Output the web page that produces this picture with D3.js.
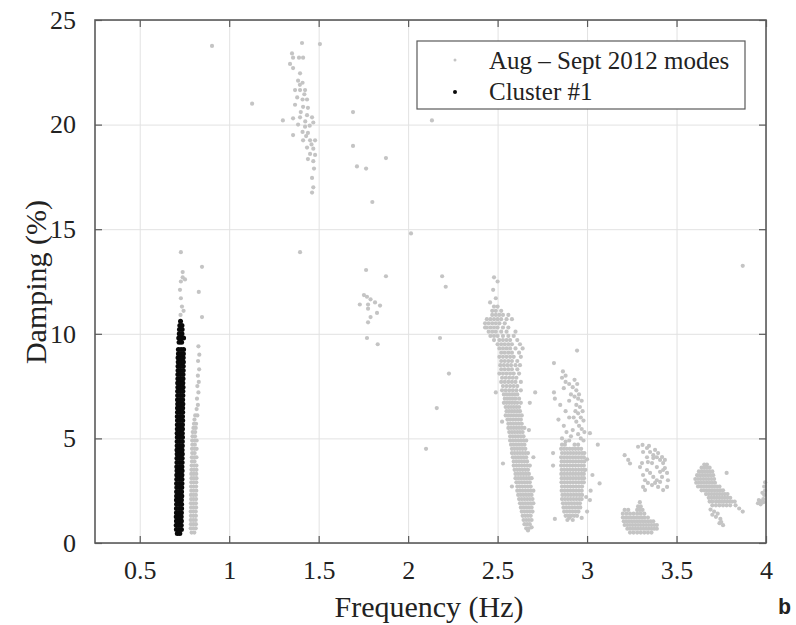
<!DOCTYPE html>
<html><head><meta charset="utf-8">
<script src="https://cdn.jsdelivr.net/npm/d3@7"></script>
<style>body{margin:0;background:#fff}</style>
</head><body>
<svg id="c" width="796" height="625"></svg>
<script>
// ---------------- DATA ----------------
const xTicks = [0.5, 1, 1.5, 2, 2.5, 3, 3.5, 4];
const yTicks = [0, 5, 10, 15, 20, 25];
const legendLabels = ["Aug \u2013 Sept 2012 modes", "Cluster #1"];
const xTitle = "Frequency (Hz)";
const yTitle = "Damping (%)";

// Cluster #1 (black) rows: "damping: freq freq ..."
const cluster1Rows = `
0.45: 0.71 0.724
0.65: 0.705 0.719 0.733
0.85: 0.704 0.718 0.732
1.05: 0.705 0.719 0.733
1.25: 0.704 0.718 0.732
1.45: 0.705 0.719 0.733
1.65: 0.705 0.72 0.734
1.85: 0.706 0.72 0.734
2.05: 0.705 0.719 0.733
2.25: 0.706 0.721 0.735
2.45: 0.706 0.72 0.734
2.65: 0.707 0.721 0.735
2.85: 0.706 0.721 0.736
3.05: 0.707 0.722 0.736
3.25: 0.707 0.721 0.736
3.45: 0.708 0.722 0.737
3.65: 0.707 0.722 0.736
3.85: 0.708 0.723 0.737
4.05: 0.708 0.722 0.737
4.25: 0.709 0.723 0.738
4.45: 0.708 0.723 0.737
4.65: 0.709 0.724 0.738
4.85: 0.709 0.723 0.738
5.05: 0.71 0.724 0.739
5.25: 0.709 0.724 0.738
5.45: 0.71 0.725 0.739
5.65: 0.71 0.724 0.739
5.85: 0.711 0.725 0.74
6.05: 0.71 0.725 0.739
6.25: 0.711 0.726 0.74
6.45: 0.711 0.725 0.74
6.65: 0.712 0.726 0.741
6.85: 0.711 0.726 0.74
7.05: 0.712 0.727 0.741
7.25: 0.712 0.726 0.741
7.45: 0.713 0.727 0.742
7.65: 0.712 0.727 0.741
7.85: 0.713 0.728 0.742
8.05: 0.713 0.727 0.742
8.25: 0.714 0.728 0.743
8.45: 0.714 0.729 0.743
8.65: 0.715 0.729 0.744
8.85: 0.714 0.729 0.743
9.05: 0.716 0.73 0.744
9.25: 0.716 0.731 0.745
9.6: 0.72 0.734
9.8: 0.718 0.732 0.745
10.0: 0.721 0.736
10.2: 0.722 0.737
10.4: 0.724 0.736
10.6: 0.728`;

// Gray modes near 0.8 Hz
const mode08Rows = `
0.5: 0.79 0.805
0.7: 0.785 0.799 0.813
0.9: 0.786 0.8 0.814
1.1: 0.785 0.799 0.813
1.3: 0.786 0.8 0.814
1.5: 0.785 0.799 0.813
1.7: 0.787 0.801 0.815
1.9: 0.786 0.8 0.814
2.1: 0.787 0.801 0.815
2.3: 0.786 0.8 0.814
2.5: 0.788 0.802 0.816
2.7: 0.787 0.801 0.815
2.9: 0.788 0.802 0.816
3.1: 0.789 0.803 0.817
3.3: 0.788 0.802 0.816
3.5: 0.789 0.803 0.817
3.7: 0.79 0.804 0.817
3.9: 0.792 0.806
4.1: 0.791 0.805 0.817
4.3: 0.793 0.807
4.5: 0.792 0.806 0.818
4.7: 0.794 0.808
4.9: 0.793 0.807 0.818
5.1: 0.795 0.809
5.3: 0.796 0.81
5.5: 0.8 0.813
5.7: 0.803 0.815
5.9: 0.806
6.1: 0.81 0.822
6.4: 0.818
6.6: 0.825
6.9: 0.82
7.2: 0.828
7.5: 0.822
7.7: 0.83
8.0: 0.825
8.3: 0.832
8.7: 0.826
9.0: 0.833
9.4: 0.828`;

// Gray modes 2.4 - 2.7 Hz
const mode26Rows = `
12.7: 2.48
12.5: 2.50
12.1: 2.475
11.7: 2.49
11.5: 2.458
11.3: 2.50 2.48
11.1: 2.47 2.49 2.52
10.9: 2.47 2.49 2.51 2.53 2.56
10.7: 2.44 2.46 2.48 2.50 2.52 2.55 2.58
10.5: 2.43 2.45 2.47 2.49 2.51 2.54
10.3: 2.44 2.46 2.48 2.50 2.53 2.56
10.1: 2.45 2.47 2.49 2.52 2.55 2.60
9.9: 2.46 2.48 2.50 2.53 2.56 2.59
9.7: 2.48 2.51 2.53 2.55 2.57 2.61
9.5: 2.50 2.52 2.54 2.56 2.58 2.625
9.3: 2.51 2.53 2.55 2.57 2.60 2.64
9.1: 2.52 2.54 2.56 2.58 2.62
8.9: 2.51 2.53 2.55 2.57 2.59 2.63
8.7: 2.52 2.54 2.56 2.58 2.61
8.5: 2.515 2.535 2.555 2.575 2.60 2.625
8.3: 2.52 2.54 2.56 2.58 2.61
8.1: 2.51 2.53 2.55 2.57 2.59 2.62
7.9: 2.525 2.545 2.565 2.585 2.605
7.7: 2.52 2.54 2.56 2.58 2.60 2.63
7.5: 2.53 2.55 2.57 2.59 2.61
7.3: 2.525 2.545 2.565 2.585 2.605 2.63
7.1: 2.535 2.55 2.565 2.58 2.595 2.61
6.9: 2.54 2.555 2.57 2.585 2.60 2.62
6.7: 2.535 2.55 2.565 2.58 2.595 2.61 2.63
6.5: 2.545 2.56 2.575 2.59 2.605 2.62
6.3: 2.55 2.565 2.58 2.595 2.61 2.625
6.1: 2.545 2.56 2.575 2.59 2.605 2.62 2.635
5.9: 2.555 2.57 2.585 2.60 2.615 2.63
5.7: 2.56 2.575 2.59 2.605 2.62 2.635
5.5: 2.56 2.575 2.59 2.605 2.62 2.635 2.65
5.3: 2.565 2.58 2.595 2.61 2.625 2.64
5.1: 2.57 2.585 2.60 2.615 2.63 2.645
4.9: 2.57 2.585 2.60 2.615 2.63 2.645 2.66
4.7: 2.575 2.59 2.605 2.62 2.635 2.65
4.5: 2.58 2.595 2.61 2.625 2.64 2.655
4.3: 2.58 2.595 2.61 2.625 2.64 2.655 2.67
4.1: 2.585 2.60 2.615 2.63 2.645 2.66
3.9: 2.59 2.605 2.62 2.635 2.65 2.665
3.7: 2.59 2.605 2.62 2.635 2.65 2.665 2.68
3.5: 2.595 2.61 2.625 2.64 2.655 2.67
3.3: 2.60 2.615 2.63 2.645 2.66 2.675
3.1: 2.60 2.615 2.63 2.645 2.66 2.675 2.69
2.9: 2.605 2.62 2.635 2.65 2.665 2.68
2.7: 2.61 2.625 2.64 2.655 2.67 2.685
2.5: 2.61 2.625 2.64 2.655 2.67 2.685 2.70
2.3: 2.615 2.63 2.645 2.66 2.675 2.69
2.1: 2.62 2.635 2.65 2.665 2.68 2.695
1.9: 2.625 2.64 2.655 2.67 2.685 2.70
1.7: 2.63 2.645 2.66 2.675 2.69
1.5: 2.635 2.65 2.665 2.68 2.695
1.3: 2.64 2.655 2.67 2.685
1.1: 2.645 2.66 2.675 2.69
0.9: 2.65 2.665 2.68
0.7: 2.66 2.675`;

// Gray modes 2.8 - 3.0 Hz
const mode29Rows = `
4.7: 2.86 2.876 2.93 2.95
4.5: 2.855 2.871 2.887 2.903 2.919 2.935 2.951 2.967
4.3: 2.86 2.876 2.892 2.908 2.924 2.94 2.956 2.972 2.985
4.1: 2.855 2.871 2.887 2.903 2.919 2.935 2.951 2.967 2.982
3.9: 2.858 2.874 2.89 2.906 2.922 2.938 2.954 2.97 2.985
3.7: 2.855 2.871 2.887 2.903 2.919 2.935 2.951 2.967 2.982
3.5: 2.858 2.874 2.89 2.906 2.922 2.938 2.954 2.97 2.984
3.3: 2.856 2.872 2.888 2.904 2.92 2.936 2.952 2.968 2.982
3.1: 2.858 2.874 2.89 2.906 2.922 2.938 2.954 2.97 2.983
2.9: 2.857 2.873 2.889 2.905 2.921 2.937 2.953 2.969 2.982
2.7: 2.86 2.876 2.892 2.908 2.924 2.94 2.956 2.972
2.5: 2.858 2.874 2.89 2.906 2.922 2.938 2.954 2.97
2.3: 2.862 2.878 2.894 2.91 2.926 2.942 2.958 2.972
2.1: 2.86 2.876 2.892 2.908 2.924 2.94 2.956 2.97
1.9: 2.865 2.881 2.897 2.913 2.929 2.945 2.96
1.7: 2.868 2.884 2.9 2.916 2.932 2.948 2.962
1.5: 2.872 2.888 2.904 2.92 2.936 2.952
1.3: 2.88 2.896 2.912 2.928 2.944
1.1: 2.89 2.92`;

const mode29Scatter = `2.944,9.2 2.815,8.6 2.865,8.2 2.88,8.0 2.86,7.9 2.88,7.7 2.90,7.6 2.92,7.45 2.94,7.3
2.955,7.1 2.93,7.0 2.95,6.9 2.97,6.8 2.94,6.6 2.96,6.5 2.975,6.3 2.95,6.2 2.965,6.0 2.98,5.85
2.94,5.8 2.955,5.6 2.97,5.45 2.985,5.3 2.92,5.4 2.95,5.2 2.965,5.0 2.98,4.9 2.90,6.8 2.91,7.1
2.87,7.4 2.85,6.6 2.88,6.3 2.90,6.0 2.87,5.6 2.885,5.3 2.91,5.1 2.86,5.0 2.935,6.3 2.925,6.0
2.82,6.9 2.84,5.9 2.88,4.85 2.90,4.9 2.815,7.2 2.945,7.6 2.93,7.8
2.82,1.15 2.90,1.2 2.97,1.2 3.016,2.05 3.07,2.85 3.06,4.7 2.81,4.3 2.81,3.7 3.03,3.25 3.016,5.25
3.00,1.5 3.02,2.5 2.99,3.5 3.0,4.0 2.995,2.2`;

// Gray mode 3.2-3.4 Hz low damping
const mode33LowRows = `
1.95: 3.295
1.75: 3.285 3.30
1.58: 3.21 3.23 3.28 3.295 3.31
1.4: 3.20 3.22 3.24 3.26 3.28 3.30 3.32
1.22: 3.20 3.215 3.23 3.245 3.26 3.275 3.29 3.305 3.32 3.34
1.04: 3.205 3.22 3.235 3.25 3.265 3.28 3.295 3.31 3.325 3.34 3.355 3.37
0.86: 3.21 3.225 3.24 3.255 3.27 3.285 3.30 3.315 3.33 3.345 3.36 3.375 3.39
0.68: 3.225 3.24 3.255 3.27 3.285 3.30 3.315 3.33 3.345 3.36 3.375 3.39
0.5: 3.24 3.26 3.28 3.30 3.32 3.34 3.36`;

// Gray mode 3.2-3.45 Hz higher damping
const mode33High = `3.21,4.2 3.23,3.97 3.285,4.6 3.31,4.69 3.335,4.54 3.313,4.35 3.352,4.35 3.37,4.2 3.39,4.1
3.408,3.97 3.425,3.82 3.435,3.58 3.447,3.35 3.452,3.0 3.447,2.68 3.425,2.53 3.335,4.1 3.34,3.87
3.363,3.82 3.39,3.63 3.408,3.4 3.419,3.16 3.335,3.49 3.352,3.35 3.37,3.16 3.39,3.0 3.408,2.92
3.324,3.0 3.34,2.87 3.363,2.77 3.313,2.68 3.324,2.53 3.307,3.82 3.296,3.63 3.37,4.06 3.313,3.25
3.38,2.87 3.397,2.68 3.346,4.64 3.38,4.45 3.397,4.3 3.419,4.11 3.435,3.97 3.425,3.49 3.24,3.8`;

// Gray mode 3.6-3.85 Hz
const mode37Rows = `
3.75: 3.655 3.67
3.6: 3.64 3.655 3.67 3.685
3.42: 3.625 3.64 3.655 3.67 3.685 3.70
3.24: 3.615 3.63 3.645 3.66 3.675 3.69 3.705
3.06: 3.605 3.62 3.635 3.65 3.665 3.68 3.695 3.71
2.88: 3.61 3.625 3.64 3.655 3.67 3.685 3.70 3.715
2.7: 3.62 3.635 3.65 3.665 3.68 3.695 3.71 3.725 3.74
2.52: 3.64 3.655 3.67 3.685 3.70 3.715 3.73 3.745 3.76
2.34: 3.665 3.68 3.695 3.71 3.725 3.74 3.755 3.77 3.785
2.16: 3.68 3.695 3.71 3.725 3.74 3.755 3.77 3.785 3.80
1.98: 3.685 3.70 3.72 3.735 3.75 3.765 3.78 3.795 3.81 3.825
1.8: 3.70 3.72 3.74 3.76 3.78 3.80`;

const mode37Scatter = `3.69,1.6 3.71,1.5 3.73,1.4 3.72,1.25 3.745,1.15 3.75,1.0 3.76,0.85 3.70,1.35 3.74,0.95
3.78,3.35 3.87,1.5 3.83,1.8 3.85,1.65`;

// Gray mode at 4 Hz edge
const mode40 = `3.955,1.9 3.97,2.0 3.985,2.1 3.99,2.3 3.995,2.5 3.99,2.7 3.97,1.85 3.96,2.05 3.98,2.4 3.995,2.9 3.985,1.95`;

// Gray mode 1.3-1.5 Hz
const mode14 = `1.407,23.9 1.507,23.85 1.351,23.4 1.357,23.2 1.39,23.2 1.413,23.2 1.34,22.9 1.357,22.7 1.396,22.45
1.385,22.1 1.41,22.0 1.368,21.65 1.396,21.65 1.424,21.65 1.38,21.3 1.41,21.2 1.435,21.2 1.368,20.95
1.413,20.85 1.44,20.8 1.30,20.2 1.357,20.3 1.396,20.35 1.435,20.45 1.463,20.35 1.47,20.1 1.385,20.0
1.424,19.9 1.357,19.5 1.41,19.65 1.44,19.6 1.413,19.25 1.452,19.25 1.48,19.25 1.435,18.9 1.47,18.85
1.452,18.6 1.48,18.55 1.44,18.35 1.47,18.25 1.474,17.9 1.463,17.45 1.47,17.0 1.463,16.75
1.395,21.9 1.42,21.45 1.40,20.6 1.425,20.15 1.45,19.95 1.43,19.45 1.46,19.05`;

// Other scattered modes
const scatterModes = `0.904,23.76 1.128,21.0 1.692,20.6 1.692,18.98 1.714,18.0 1.765,17.9 1.876,18.4 1.80,16.3
2.133,20.2 1.396,13.9 2.016,14.8 1.765,13.05 1.876,12.75 1.753,11.85 1.77,11.77 1.79,11.65 1.73,11.4
1.776,11.4 1.815,11.5 1.843,11.35 1.776,11.2 1.826,11.0 1.79,10.8 1.776,10.55 1.77,9.8 1.83,9.5
2.19,12.75 2.21,12.25 2.178,9.8 2.228,8.1 2.16,6.45 2.10,4.5 3.87,13.25
0.73,13.9 0.848,13.2 0.74,12.95 0.74,12.7 0.73,12.5 0.753,12.6 0.725,12.1 0.83,12.0 0.848,10.8
0.736,11.3 0.73,11.7 0.745,11.1 0.728,10.9
2.49,7.2 2.53,3.8 2.525,5.8 2.58,2.7 2.71,7.2 2.68,6.7 2.70,4.1 2.675,5.4 2.67,0.6 2.69,0.75 2.43,10.3`;

// ---------------- PARSING ----------------
function rows(s) {
  const out = [];
  s.trim().split("\n").forEach(l => {
    const [d, fs] = l.split(":");
    fs.trim().split(/\s+/).forEach(f => out.push([+f, +d]));
  });
  return out;
}
function pairs(s) {
  return s.trim().split(/\s+/).map(p => p.split(",").map(Number));
}
const grayPoints = [].concat(
  rows(mode08Rows), rows(mode26Rows), rows(mode29Rows), pairs(mode29Scatter),
  rows(mode33LowRows), pairs(mode33High), rows(mode37Rows), pairs(mode37Scatter),
  pairs(mode40), pairs(mode14), pairs(scatterModes));
const blackPoints = rows(cluster1Rows);

// ---------------- CHART ----------------
const svg = d3.select("#c");
const L = 95, R = 766, T = 20, B = 543;
const x = d3.scaleLinear().domain([0.25, 4]).range([L, R]);
const y = d3.scaleLinear().domain([0, 25]).range([B, T]);
const serif = "'Liberation Serif', 'Times New Roman', serif";
const gray = "#c4c4c4";

// grid
const grid = svg.append("g");
grid.append("g").attr("transform", `translate(0,${B})`)
  .call(d3.axisBottom(x).tickValues(xTicks).tickSize(-(B - T)).tickFormat(""))
  .call(g => g.select(".domain").remove())
  .call(g => g.selectAll("line").attr("stroke", "#e2e2e2").attr("stroke-width", 1));
grid.append("g").attr("transform", `translate(${L},0)`)
  .call(d3.axisLeft(y).tickValues(yTicks).tickSize(-(R - L)).tickFormat(""))
  .call(g => g.select(".domain").remove())
  .call(g => g.selectAll("line").attr("stroke", "#e2e2e2").attr("stroke-width", 1));

// points
svg.append("g").selectAll("circle").data(grayPoints).join("circle")
  .attr("cx", d => x(d[0])).attr("cy", d => y(d[1])).attr("r", 2.1).attr("fill", gray);
svg.append("g").selectAll("circle").data(blackPoints).join("circle")
  .attr("cx", d => x(d[0])).attr("cy", d => y(d[1])).attr("r", 2.5).attr("fill", "#0a0a0a");

// frame
svg.append("rect").attr("x", L).attr("y", T).attr("width", R - L).attr("height", B - T)
  .attr("fill", "none").attr("stroke", "#5a5a5a").attr("stroke-width", 1.6);

const tickStyle = g => {
  g.select(".domain").remove();
  g.selectAll("line").attr("stroke", "#5a5a5a").attr("stroke-width", 1.2);
  g.selectAll("text").attr("font-family", serif).attr("font-size", 26).attr("fill", "#222");
};
svg.append("g").attr("transform", `translate(0,${B})`)
  .call(d3.axisBottom(x).tickValues(xTicks).tickSizeInner(-7).tickSizeOuter(0).tickPadding(18).tickFormat(d => String(d)))
  .call(tickStyle);
svg.append("g").attr("transform", `translate(0,${T})`)
  .call(d3.axisTop(x).tickValues(xTicks).tickSizeInner(-7).tickSizeOuter(0).tickFormat(""))
  .call(tickStyle);
svg.append("g").attr("transform", `translate(${L},0)`)
  .call(d3.axisLeft(y).tickValues(yTicks).tickSizeInner(-7).tickSizeOuter(0).tickPadding(19).tickFormat(d => String(d)))
  .call(tickStyle);
svg.append("g").attr("transform", `translate(${R},0)`)
  .call(d3.axisRight(y).tickValues(yTicks).tickSizeInner(-7).tickSizeOuter(0).tickFormat(""))
  .call(tickStyle);

// titles
svg.append("text").attr("x", 429).attr("y", 617).attr("text-anchor", "middle")
  .attr("font-family", serif).attr("font-size", 30).attr("fill", "#222").text(xTitle);
svg.append("text").attr("transform", "translate(46,282) rotate(-90)").attr("text-anchor", "middle")
  .attr("font-family", serif).attr("font-size", 30).attr("fill", "#222").text(yTitle);

// legend
const lg = svg.append("g");
lg.append("rect").attr("x", 417).attr("y", 41).attr("width", 328).attr("height", 68)
  .attr("fill", "#fff").attr("stroke", "#5a5a5a").attr("stroke-width", 1.2);
lg.append("circle").attr("cx", 455).attr("cy", 60).attr("r", 1.5).attr("fill", gray);
lg.append("circle").attr("cx", 455).attr("cy", 92).attr("r", 2).attr("fill", "#0a0a0a");
lg.selectAll("text.l").data(legendLabels).join("text").attr("class", "l")
  .attr("x", 489).attr("y", (d, i) => 69 + i * 31)
  .attr("font-family", serif).attr("font-size", 25).attr("fill", "#222").text(d => d);

// panel letter near the lower-right edge
svg.append("text").attr("x", 778).attr("y", 614).attr("font-family", "'Liberation Mono', monospace")
  .attr("font-weight", "bold").attr("font-size", 22).attr("fill", "#222").text("b");
</script>
</body></html>
